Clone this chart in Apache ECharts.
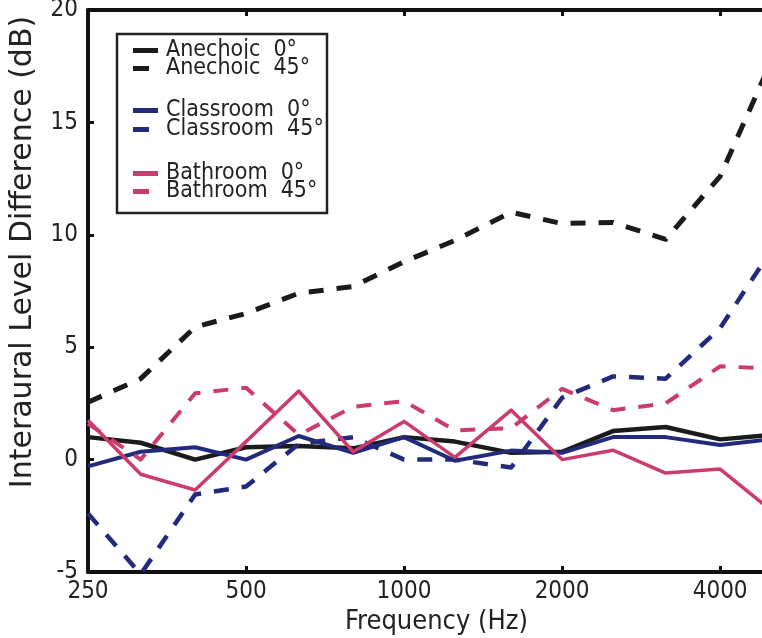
<!DOCTYPE html>
<html>
<head>
<meta charset="utf-8">
<script src="https://cdn.jsdelivr.net/npm/echarts@6/dist/echarts.min.js"></script>
<style>html,body{margin:0;padding:0;background:#fff}#c{width:762px;height:638px}</style>
</head>
<body>
<div id="c"></div>
<script>
const freqs = [250, 315, 400, 500, 630, 800, 1000, 1250, 1600, 2000, 2500, 3150, 4000, 5000];
const xTicks = [250, 500, 1000, 2000, 4000];
const anechoic0   = [1.0, 0.75, 0.0, 0.55, 0.6, 0.5, 1.0, 0.8, 0.3, 0.35, 1.27, 1.45, 0.9, 1.1];
const anechoic45  = [2.55, 3.6, 5.9, 6.5, 7.4, 7.7, 8.8, 9.75, 11.0, 10.5, 10.55, 9.8, 12.6, 17.7];
const classroom0  = [-0.3, 0.35, 0.55, 0.0, 1.05, 0.3, 1.0, -0.05, 0.4, 0.3, 1.0, 1.0, 0.65, 0.9];
const classroom45 = [-2.4, -5.1, -1.55, -1.2, 0.7, 1.0, 0.0, 0.0, -0.35, 2.75, 3.7, 3.6, 5.85, 9.3];
const bathroom0   = [1.75, -0.65, -1.35, 0.8, 3.05, 0.35, 1.7, 0.1, 2.2, 0.0, 0.42, -0.6, -0.42, -2.25];
const bathroom45  = [1.6, 0.0, 2.95, 3.2, 1.1, 2.35, 2.6, 1.3, 1.4, 3.15, 2.2, 2.5, 4.15, 4.05];
const names = ['Anechoic  0°', 'Anechoic  45°', 'Classroom  0°', 'Classroom  45°', 'Bathroom  0°', 'Bathroom  45°'];

const BASE = 250;
const oct = f => Math.log2(f / BASE);
const pts = arr => arr.map((v, i) => [oct(freqs[i]), v]);
const FONT = "'DejaVu Sans Condensed', 'Liberation Sans', sans-serif";
const BLACK = '#1b1b1b', NAVY = '#232a7c', PINK = '#cc3b6d';
const DASH = [15, 13];

function mk(name, data, color, dashed, width) {
  return {
    name, type: 'line', data: pts(data), showSymbol: false, symbol: 'none',
    color, itemStyle: { color },
    lineStyle: { color, width, type: dashed ? DASH : 'solid', cap: 'butt', join: 'round' },
    emphasis: { disabled: true }, animation: false
  };
}

const legendRows = [51, 69, 111, 130, 174, 192];
const legends = names.map((n, i) => {
  const dashed = i % 2 === 1;
  return {
    data: [n], left: 133, top: legendRows[i] - 12, orient: 'horizontal', padding: 0,
    icon: 'rect', itemWidth: dashed ? 16 : 25, itemHeight: 5, selectedMode: false,
    textStyle: { fontFamily: FONT, fontSize: 23, color: '#222', padding: [0, 0, 0, dashed ? 12 : 3] }
  };
});

const xmax = oct(5000);
const axisCommon = {
  type: 'value', min: 0, max: xmax, interval: 1,
  axisLine: { show: true, onZero: false, lineStyle: { color: '#111', width: 4 } },
  axisTick: { show: true, inside: true, length: 6, lineStyle: { color: '#111', width: 3 } },
  splitLine: { show: false }
};

const chart = echarts.init(document.getElementById('c'), null, { renderer: 'canvas' });
chart.setOption({
  animation: false,
  backgroundColor: '#fff',
  grid: { left: 88, top: 10, width: 683, height: 562, containLabel: false, outerBoundsMode: 'none' },
  legend: legends,
  graphic: [{
    type: 'rect', z: 0, shape: { x: 117, y: 34, width: 210, height: 179 },
    style: { fill: '#fff', stroke: '#222', lineWidth: 2.5 }
  }],
  xAxis: [
    Object.assign({}, axisCommon, {
      position: 'bottom',
      name: 'Frequency (Hz)', nameLocation: 'middle', nameGap: 36,
      nameTextStyle: { fontFamily: FONT, fontSize: 27, color: '#222', padding: [0, 0, 0, 14] },
      axisLabel: {
        fontFamily: FONT, fontSize: 24, color: '#222', margin: 8, showMaxLabel: false,
        formatter: v => { const f = Math.round(BASE * Math.pow(2, v)); return xTicks.includes(f) ? String(f) : ''; }
      }
    }),
    Object.assign({}, axisCommon, { position: 'top', axisLabel: { show: false } })
  ],
  yAxis: [{
    type: 'value', min: -5, max: 20, interval: 5, position: 'left',
    name: 'Interaural Level Difference (dB)', nameLocation: 'middle', nameGap: 50,
    nameTextStyle: { fontFamily: "'DejaVu Sans', sans-serif", fontSize: 30, color: '#222', padding: [0, 0, 0, 78] },
    axisLine: { show: true, onZero: false, lineStyle: { color: '#111', width: 4 } },
    axisTick: { show: true, inside: true, length: 6, lineStyle: { color: '#111', width: 3 } },
    splitLine: { show: false },
    axisLabel: { fontFamily: FONT, fontSize: 24, color: '#222', margin: 10 }
  }],
  series: [
    mk(names[0], anechoic0, BLACK, false, 4.5),
    mk(names[1], anechoic45, BLACK, true, 5),
    mk(names[2], classroom0, NAVY, false, 4),
    mk(names[3], classroom45, NAVY, true, 4.5),
    mk(names[4], bathroom0, PINK, false, 3.5),
    mk(names[5], bathroom45, PINK, true, 4)
  ]
});
</script>
</body>
</html>
